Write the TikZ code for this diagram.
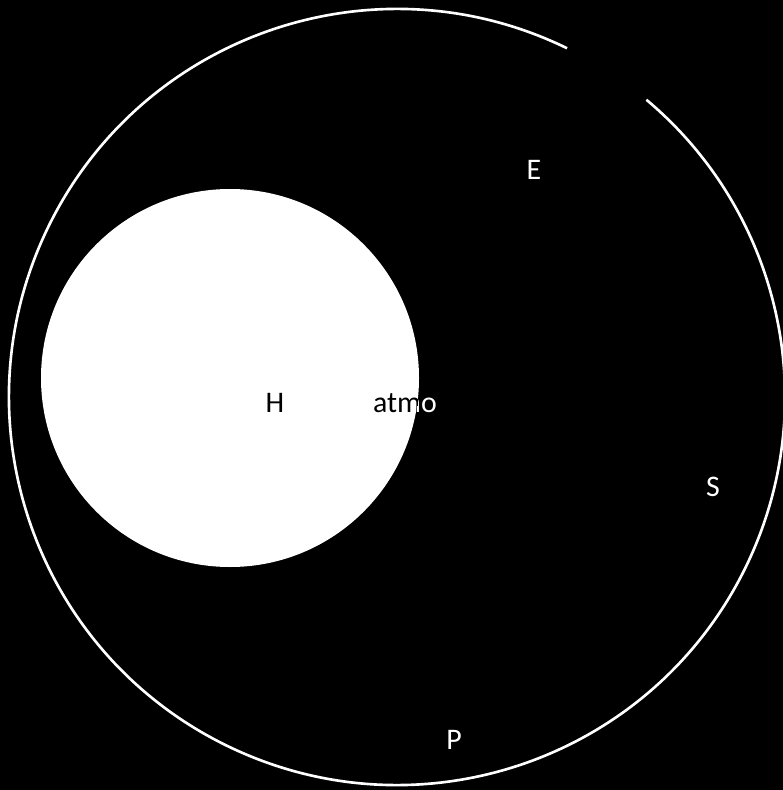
\documentclass[tikz,border=0pt]{standalone}
\usepackage{fontspec}
\setmainfont{Carlito}
\usetikzlibrary{positioning, calc}
\tikzset{
    lbl/.style={font=\fontsize{17}{20}\selectfont, inner sep=0pt},
    whitelbl/.style={lbl, text=white},
    blacklbl/.style={lbl, text=black},
    ring/.style={draw=white, line width=1.5pt}
}
\begin{document}
\begin{tikzpicture}[x=0.02cm, y=-0.02cm]
        \fill[black] (0,0) rectangle (783,790);
        \useasboundingbox (0,0) rectangle (783,790);
        % outer ring with gap at top right
        \coordinate (orb) at (397,397);
        \draw[ring] ($(orb)+(64:388 and -388)$) arc[start angle=64, end angle=410, x radius=388, y radius=-388];
        % inner disc
        \coordinate (core) at (230,378);
        \fill[white] (core) circle[radius=189];
        \node[blacklbl] (h) at (275,403) {H};
        \node[whitelbl] (atmo) at (405,403) {atmo};
        \begin{scope}
            \clip (core) circle[radius=189];
            \node[blacklbl] (atmoin) at (405,403) {atmo};
        \end{scope}
        \node[whitelbl] (e) at (534,170) {E};
        \node[whitelbl] (s) at (713,487) {S};
        \node[whitelbl] (p) at (454,740) {P};
    \end{tikzpicture}
\end{document}
